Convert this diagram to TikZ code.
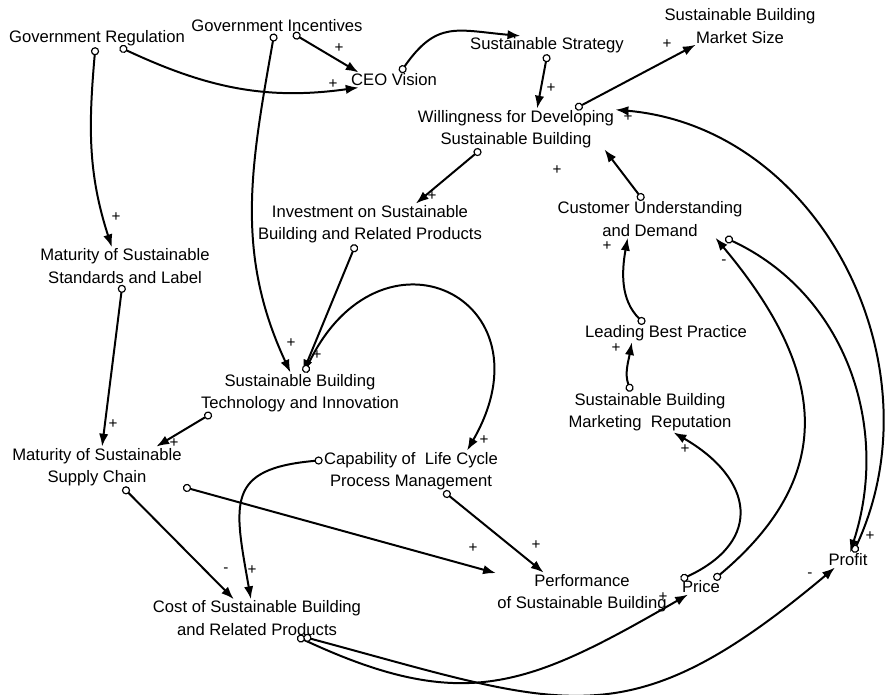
\documentclass[tikz,border=0pt]{standalone}
\usepackage{fontspec}
\setmainfont{Liberation Sans}
\usetikzlibrary{arrows.meta}

\tikzset{
  var/.style={align=center, inner sep=1pt, font=\fontsize{14.2}{19.2}\selectfont},
  sgn/.style={inner sep=0pt, font=\fontsize{13}{15}\selectfont},
  link/.style={line width=1.7pt, {Circle[open,length=7pt,line width=1pt,fill=white]}-{Latex[length=11pt,width=8pt]}}
}

\begin{document}
\begin{tikzpicture}[x=0.03cm, y=-0.03cm]
    \useasboundingbox (0,0) rectangle (885,695);
    \node[var] (greg) at (97,38) {Government Regulation};
    \node[var] (ginc) at (277,26) {Government Incentives};
    \node[var] (ceo) at (394,80) {CEO Vision};
    \node[var] (strat) at (547,45) {Sustainable Strategy};
    \node[var] (msize) at (740,26) {Sustainable Building\\Market Size};
    \node[var] (will) at (516,129) {Willingness for Developing\\Sustainable Building};
    \node[var] (inv) at (370,224) {Investment on Sustainable\\Building and Related Products};
    \node[var] (cust) at (650,219) {Customer Understanding\\and Demand};
    \node[var] (mstd) at (125,266) {Maturity of Sustainable\\Standards and Label};
    \node[var] (lead) at (666,333) {Leading Best Practice};
    \node[var] (tech) at (300,393) {Sustainable Building\\Technology and Innovation};
    \node[var] (rep) at (650,412) {Sustainable Building\\Marketing\ \ Reputation};
    \node[var] (msup) at (97,467) {Maturity of Sustainable\\Supply Chain};
    \node[var] (cap) at (411,471) {Capability of\ \ Life Cycle\\Process Management};
    \node[var] (perf) at (582,593) {Performance\\of Sustainable Building};
    \node[var] (price) at (701,587) {Price};
    \node[var] (profit) at (848,560) {Profit};
    \node[var] (cost) at (257,618) {Cost of Sustainable Building\\and Related Products};

    \draw[link] (ginc.-25) -- (ceo.168);
    \draw[link] (greg.-22) to[out=-25,in=188] (ceo.192);
    \draw[link] (greg.-100) to[out=-95,in=108] (mstd.125);
    \draw[link] (ginc.-110) to[out=-100,in=115] (tech.115);
    \draw[link] (ceo.50) to[out=55,in=175,looseness=1.3] (strat.161);
    \draw[link] (strat.-88) -- (will.44);
    \draw[link] (will.19) -- (msize.203);
    \draw[link] (profit.55) to[out=65,in=-5,looseness=1.05] (will.11);
    \draw[link] (price.30) to[out=40,in=-50,looseness=1.25] (cust.-16);
    \draw[link] (cust.110) -- (will.-13);
    \draw[link] (will.210) -- (inv.24);
    \draw[link] (inv.-125) -- (tech.82);
    \draw[link] (tech.78) to[out=65,in=60,looseness=2.5] (cap.20);
    \draw[link] (tech.193) -- (msup.19);
    \draw[link] (mstd.-98) -- (msup.76);
    \draw[link] (lead.157) to[out=135,in=-100] (cust.-140);
    \draw[link] (rep.133) to[out=110,in=-100] (lead.-165);
    \draw[link] (price.160) to[out=25,in=-30,looseness=1.6] (rep.-41);
    \draw[link] (msup.-38) -- (cost.141);
    \draw[link] (cap.173) to[out=185,in=100,looseness=1.6] (cost.108);
    \draw[link] (msup.-13) -- (perf.167);
    \draw[link] (cap.-32) -- (perf.152);
    \draw[link] (cost.-25) to[out=-25,in=210,looseness=1.2] (price.-150);
    \draw[link] (cost.-22) to[out=-15,in=220,looseness=1.3] (profit.-150);
    \draw[link] (cust.-14) to[out=-25,in=72] (profit.75);

    \node[sgn] (s1) at (339,48) {+};
    \node[sgn] (s2) at (333,84) {+};
    \node[sgn] (s3) at (116,217) {+};
    \node[sgn] (s4) at (291,343) {+};
    \node[sgn] (s5) at (551,88) {+};
    \node[sgn] (s6) at (667,44) {+};
    \node[sgn] (s7) at (628,117) {+};
    \node[sgn] (s8) at (724,262) {-};
    \node[sgn] (s9) at (557,170) {+};
    \node[sgn] (s10) at (432,196) {+};
    \node[sgn] (s11) at (317,355) {+};
    \node[sgn] (s12) at (484,440) {+};
    \node[sgn] (s13) at (174,443) {+};
    \node[sgn] (s14) at (113,424) {+};
    \node[sgn] (s15) at (607,246) {+};
    \node[sgn] (s16) at (616,348) {+};
    \node[sgn] (s17) at (685,449) {+};
    \node[sgn] (s18) at (226,570) {-};
    \node[sgn] (s19) at (252,570) {+};
    \node[sgn] (s20) at (473,548) {+};
    \node[sgn] (s21) at (536,545) {+};
    \node[sgn] (s22) at (663,597) {+};
    \node[sgn] (s23) at (810,575) {-};
    \node[sgn] (s24) at (870,536) {+};
\end{tikzpicture}
\end{document}
